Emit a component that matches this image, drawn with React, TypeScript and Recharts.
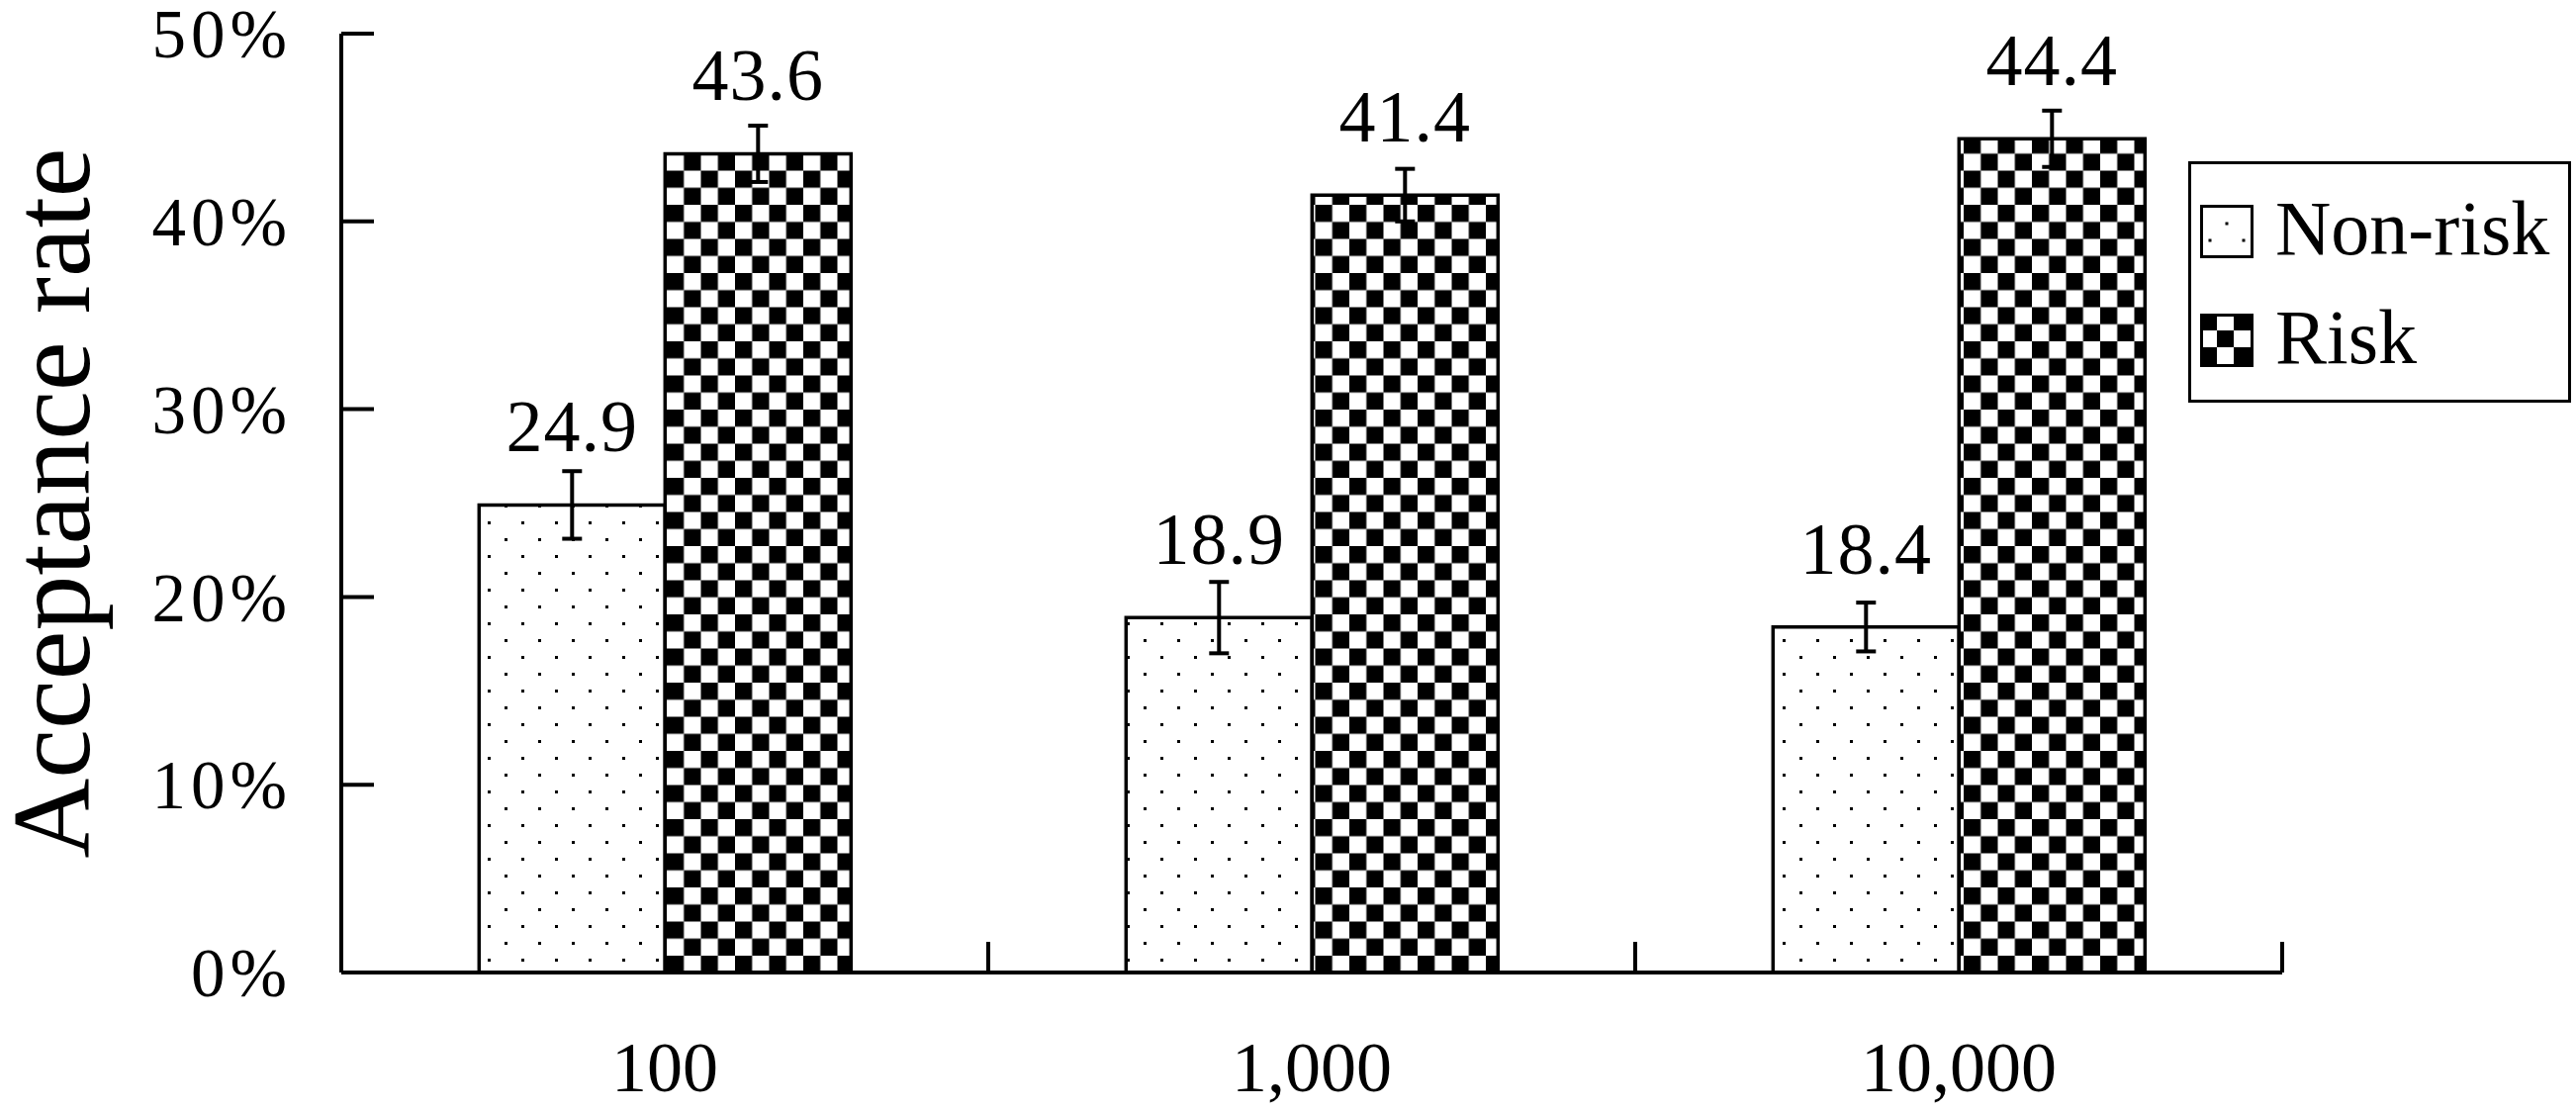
import React from 'react';
import { BarChart, Bar, XAxis, YAxis, ErrorBar, LabelList, Legend, Label } from 'recharts';

const categories = ['100', '1,000', '10,000'];
const nonRiskValues = [24.9, 18.9, 18.4];
const riskValues = [43.6, 41.4, 44.4];
const nonRiskErrors = [1.8, 1.9, 1.3];
const riskErrors = [1.5, 1.4, 1.5];
const yTicks = [0, 10, 20, 30, 40, 50];
const seriesNames = ['Non-risk', 'Risk'];
const yAxisTitle = 'Acceptance rate';

const data = categories.map((c, i) => ({
  category: c,
  nonRisk: nonRiskValues[i],
  risk: riskValues[i],
  nonRiskErr: nonRiskErrors[i],
  riskErr: riskErrors[i],
}));

const FONT = '"Liberation Serif", "Times New Roman", Times, serif';
const CHART_W = 2604;
const CHART_H = 1124;
const MARGIN = { top: 34, right: 297, left: 0, bottom: 0 };
const Y_AXIS_W = 345;
const X_AXIS_H = 141;

const YTick = (props: any) => {
  const { x, y, payload } = props;
  return (
    <g>
      <line x1={x} y1={y} x2={x + 33} y2={y} stroke="#000" strokeWidth={4} />
      <text x={x - 50} y={y} dy="0.35em" textAnchor="end" fontFamily={FONT} fontSize={69} letterSpacing={5} fill="#000">
        {`${payload.value}%`}
      </text>
    </g>
  );
};

const XTick = (props: any) => {
  const { x, y, payload, index, visibleTicksCount, width } = props;
  const plotW = CHART_W - MARGIN.left - MARGIN.right - Y_AXIS_W;
  const w = typeof width === 'number' && width > 0 ? width : plotW;
  const n = visibleTicksCount || categories.length;
  const half = w / n / 2;
  return (
    <g>
      <line x1={x - half} y1={y} x2={x - half} y2={y - 31} stroke="#000" strokeWidth={4} />
      {index === n - 1 && <line x1={x + half} y1={y} x2={x + half} y2={y - 31} stroke="#000" strokeWidth={4} />}
      <text x={x} y={y + 120} textAnchor="middle" fontFamily={FONT} fontSize={72} fill="#000">
        {payload.value}
      </text>
    </g>
  );
};

const YLabel = (props: any) => {
  const vb = props.viewBox || { x: 0, y: MARGIN.top, width: Y_AXIS_W, height: CHART_H - MARGIN.top - X_AXIS_H };
  const cx = vb.x + 90;
  const cy = vb.y + vb.height / 2;
  return (
    <text x={cx} y={cy} transform={`rotate(-90 ${cx} ${cy})`} textAnchor="middle" fontFamily={FONT} fontSize={112} fill="#000">
      {yAxisTitle}
    </text>
  );
};

const ValueLabel = (props: any) => {
  const { x, y, width, value } = props;
  return (
    <text x={x + width / 2} y={y - 54} textAnchor="middle" fontFamily={FONT} fontSize={74} letterSpacing={1} fill="#000">
      {Number(value).toFixed(1)}
    </text>
  );
};

const LegendBox = () => (
  <svg width={387} height={244} style={{ display: 'block' }}>
    <defs>
      <pattern id="legCheck" patternUnits="userSpaceOnUse" width={34} height={34} patternTransform="translate(12 154)">
        <rect width={34} height={34} fill="#fff" />
        <rect x={0} y={0} width={17} height={17} fill="#000" />
        <rect x={17} y={17} width={17} height={17} fill="#000" />
      </pattern>
    </defs>
    <rect x={1.5} y={1.5} width={384} height={241} fill="#fff" stroke="#000" strokeWidth={3} />
    {seriesNames.map((name, i) => {
      const top = 45.5 + 110 * i;
      return (
        <g key={name}>
          <rect x={13.5} y={top} width={51} height={51} fill={i === 0 ? '#fff' : 'url(#legCheck)'} stroke="#000" strokeWidth={3} />
          {i === 0 && (
            <g fill="#000">
              <rect x={37.5} y={61.5} width={3} height={3} />
              <rect x={20.5} y={78.5} width={3} height={3} />
              <rect x={54.5} y={78.5} width={3} height={3} />
            </g>
          )}
          <text x={88} y={94 + 110 * i} fontFamily={FONT} fontSize={78} fill="#000">
            {name}
          </text>
        </g>
      );
    })}
  </svg>
);

export default function App() {
  return (
    <div style={{ position: 'fixed', left: 0, top: 0, width: CHART_W, height: CHART_H, background: '#fff' }}>
      <BarChart width={CHART_W} height={CHART_H} data={data} margin={MARGIN} barCategoryGap="21.3%" barGap={0}>
        <defs>
          <pattern id="dotsFill" patternUnits="userSpaceOnUse" width={34} height={34}>
            <rect width={34} height={34} fill="#fff" />
            <rect x={0} y={0} width={3} height={3} fill="#000" />
            <rect x={17} y={17} width={3} height={3} fill="#000" />
          </pattern>
          <pattern id="checkFill" patternUnits="userSpaceOnUse" width={34.5} height={34.5} patternTransform="translate(18.5 0)">
            <rect width={34.5} height={34.5} fill="#fff" />
            <rect x={0} y={0} width={17.25} height={17.25} fill="#000" />
            <rect x={17.25} y={17.25} width={17.25} height={17.25} fill="#000" />
          </pattern>
        </defs>
        <XAxis
          dataKey="category"
          height={X_AXIS_H}
          tickSize={0}
          tickMargin={0}
          tickLine={false}
          axisLine={{ stroke: '#000', strokeWidth: 4 }}
          tick={<XTick />}
          interval={0}
        />
        <YAxis
          type="number"
          domain={[0, 50]}
          ticks={yTicks}
          interval={0}
          width={Y_AXIS_W}
          tickSize={0}
          tickMargin={0}
          tickLine={false}
          axisLine={{ stroke: '#000', strokeWidth: 4 }}
          tick={<YTick />}
        >
          <Label content={YLabel} />
        </YAxis>
        <Legend
          layout="vertical"
          align="center"
          verticalAlign="middle"
          wrapperStyle={{ position: 'absolute', left: 2212, top: 163, width: 387, height: 244, margin: 0, padding: 0 }}
          content={() => <LegendBox />}
        />
        <Bar dataKey="nonRisk" name={seriesNames[0]} fill="url(#dotsFill)" stroke="#000" strokeWidth={3.5} isAnimationActive={false}>
          <ErrorBar dataKey="nonRiskErr" width={10} stroke="#000" strokeWidth={4} direction="y" isAnimationActive={false} />
          <LabelList dataKey="nonRisk" content={ValueLabel} />
        </Bar>
        <Bar dataKey="risk" name={seriesNames[1]} fill="url(#checkFill)" stroke="#000" strokeWidth={3.5} isAnimationActive={false}>
          <ErrorBar dataKey="riskErr" width={10} stroke="#000" strokeWidth={4} direction="y" isAnimationActive={false} />
          <LabelList dataKey="risk" content={ValueLabel} />
        </Bar>
      </BarChart>
    </div>
  );
}
